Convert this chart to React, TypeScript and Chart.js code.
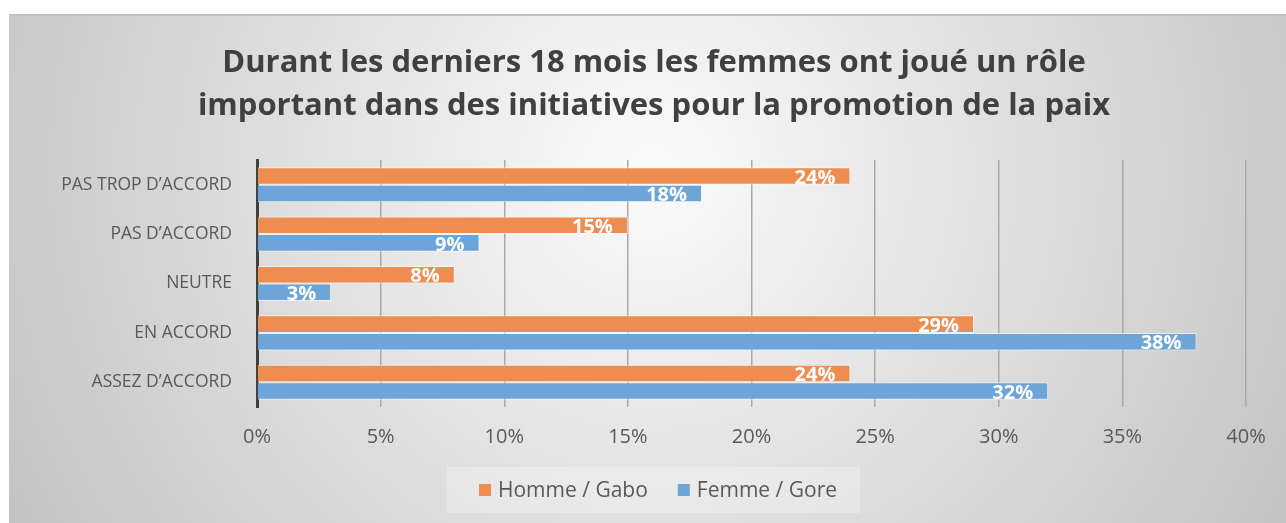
import React, { useEffect, useRef } from "react";
import { Chart, registerables } from "chart.js";

Chart.register(...registerables);

const categories = ["PAS TROP D’ACCORD", "PAS D’ACCORD", "NEUTRE", "EN ACCORD", "ASSEZ D’ACCORD"];
const hommeValues = [24, 15, 8, 29, 24];
const femmeValues = [18, 9, 3, 38, 32];
const seriesNames = ["Homme / Gabo", "Femme / Gore"];
const seriesColors = ["#EE8D4F", "#6EA5D8"];
const titleLines = [
  "Durant les derniers 18 mois les femmes ont joué un rôle",
  "important dans des initiatives pour la promotion de la paix",
];
const xMax = 40;
const xStep = 5;

const FONT = "'Open Sans', 'Noto Sans', sans-serif";

const decorPlugin = {
  id: "decor",
  beforeDraw(chart: any) {
    const { ctx, width, height } = chart;
    ctx.save();
    ctx.fillStyle = "#ffffff";
    ctx.fillRect(0, 0, width, height);
    const g = ctx.createRadialGradient(650, 170, 0, 650, 170, 720);
    g.addColorStop(0, "#fbfbfb");
    g.addColorStop(1, "#c4c4c4");
    ctx.fillStyle = g;
    ctx.fillRect(9, 14, width - 9, height - 14);
    ctx.strokeStyle = "#c0c0c0";
    ctx.lineWidth = 2;
    ctx.beginPath();
    ctx.moveTo(9, 15);
    ctx.lineTo(width, 15);
    ctx.stroke();
    // title
    ctx.fillStyle = "#404040";
    ctx.font = `bold 31px ${FONT}`;
    ctx.textAlign = "center";
    ctx.textBaseline = "middle";
    ctx.fillText(titleLines[0], 654, 63);
    ctx.fillText(titleLines[1], 654, 106);
    // legend
    ctx.fillStyle = "rgba(255,255,255,0.28)";
    ctx.fillRect(447, 467, 413, 46);
    ctx.font = `21px ${FONT}`;
    ctx.textAlign = "left";
    const w0 = ctx.measureText(seriesNames[0]).width;
    const w1 = ctx.measureText(seriesNames[1]).width;
    const boxW = 12;
    const gapBoxText = 7;
    const itemGap = 30;
    const total = boxW + gapBoxText + w0 + itemGap + boxW + gapBoxText + w1;
    let x = 658 - total / 2;
    const ly = 490;
    [w0, w1].forEach((w, i) => {
      ctx.fillStyle = seriesColors[i];
      ctx.fillRect(x, ly - 6, boxW, boxW);
      ctx.fillStyle = "#595959";
      ctx.fillText(seriesNames[i], x + boxW + gapBoxText, ly + 1);
      x += boxW + gapBoxText + w + itemGap;
    });
    ctx.restore();
  },
  afterDatasetsDraw(chart: any) {
    const { ctx } = chart;
    ctx.save();
    ctx.font = `bold 20px ${FONT}`;
    ctx.fillStyle = "#ffffff";
    ctx.textAlign = "right";
    ctx.textBaseline = "middle";
    chart.data.datasets.forEach((ds: any, di: number) => {
      const meta = chart.getDatasetMeta(di);
      meta.data.forEach((bar: any, i: number) => {
        ctx.fillText(`${ds.data[i]}%`, bar.x - 15, bar.y + 2);
      });
    });
    ctx.restore();
  },
};

export default function App() {
  const ref = useRef<HTMLCanvasElement>(null);
  useEffect(() => {
    document.body.style.margin = "0";
    const chart = new Chart(ref.current!, {
      type: "bar",
      data: {
        labels: categories,
        datasets: [
          {
            label: seriesNames[0],
            data: hommeValues,
            backgroundColor: seriesColors[0],
            borderColor: "rgba(255,255,255,0.55)",
            borderWidth: 1,
            barPercentage: 1,
            categoryPercentage: 0.71,
          },
          {
            label: seriesNames[1],
            data: femmeValues,
            backgroundColor: seriesColors[1],
            borderColor: "rgba(255,255,255,0.55)",
            borderWidth: 1,
            barPercentage: 1,
            categoryPercentage: 0.71,
          },
        ],
      },
      plugins: [decorPlugin],
      options: {
        indexAxis: "y",
        animation: false,
        responsive: false,
        layout: { padding: { top: 160, right: 40, bottom: 0, left: 0 } },
        plugins: {
          legend: { display: false },
          title: { display: false },
          tooltip: { enabled: false },
        },
        scales: {
          x: {
            min: 0,
            max: xMax,
            ticks: {
              stepSize: xStep,
              callback: (v: any) => `${v}%`,
              color: "#595959",
              font: { family: FONT, size: 20 },
              padding: 18,
            },
            grid: { color: "#a9a9a9", lineWidth: 1.5, drawTicks: false },
            border: { display: false },
            afterFit: (s: any) => {
              s.height = 116;
            },
          },
          y: {
            ticks: {
              color: "#595959",
              font: { family: FONT, size: 17.5 },
              padding: 25,
            },
            grid: { display: false, drawTicks: false },
            border: { display: true, color: "#404040", width: 3 },
            afterFit: (s: any) => {
              s.width = 257;
            },
          },
        },
      },
    } as any);
    return () => chart.destroy();
  }, []);
  return (
    <div style={{ width: 1286, height: 523 }}>
      <canvas ref={ref} width={1286} height={523} style={{ display: "block" }} />
    </div>
  );
}
